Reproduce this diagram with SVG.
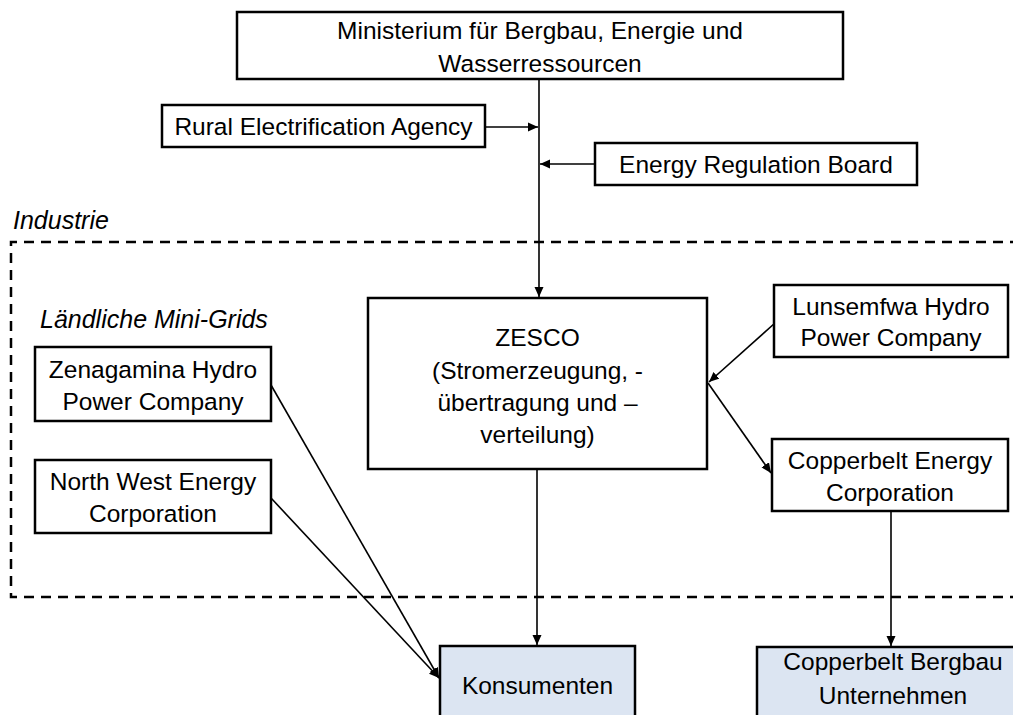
<svg xmlns="http://www.w3.org/2000/svg" width="1013" height="715" viewBox="0 0 1013 715">
<style>
.box{fill:#fff;stroke:#000;stroke-width:2.5}
.blue{fill:#dce5f2;stroke:#000;stroke-width:2.5}
.t{font-family:"Liberation Sans",Arial,sans-serif;font-size:24.5px;fill:#000;text-anchor:middle}
.it{font-family:"Liberation Sans",Arial,sans-serif;font-size:25px;font-style:italic;fill:#000}
.c{stroke:#000;stroke-width:1.6;fill:none}
.dash{stroke:#000;stroke-width:2.5;fill:none;stroke-dasharray:10 7}
</style>
<defs>
<marker id="ah" markerUnits="userSpaceOnUse" markerWidth="10" markerHeight="10" refX="10" refY="5" orient="auto">
<path d="M0,0.5 L10,5 L0,9.5 z" fill="#000"/>
</marker>
</defs>
<g id="industrie">
<path class="dash" d="M1020,242 H11 V597 H1020"/>
<text class="it" x="13" y="229">Industrie</text>
<text class="it" x="40" y="328">Ländliche Mini-Grids</text>
</g>
<g id="connectors">
<line class="c" x1="539" y1="79" x2="539" y2="297" marker-end="url(#ah)"/>
<line class="c" x1="485" y1="127" x2="538" y2="127" marker-end="url(#ah)"/>
<line class="c" x1="595" y1="164" x2="540" y2="164" marker-end="url(#ah)"/>
<line class="c" x1="775" y1="323" x2="709" y2="382" marker-end="url(#ah)"/>
<line class="c" x1="708" y1="383" x2="771" y2="473" marker-end="url(#ah)"/>
<line class="c" x1="537" y1="469" x2="537" y2="645" marker-end="url(#ah)"/>
<line class="c" x1="271" y1="385" x2="439" y2="678" marker-end="url(#ah)"/>
<line class="c" x1="271" y1="498" x2="439" y2="678" marker-end="url(#ah)"/>
<line class="c" x1="891" y1="511" x2="891" y2="646" marker-end="url(#ah)"/>
</g>
<g id="ministerium">
<rect class="box" x="237" y="12" width="606" height="67"/>
<text class="t" x="540" y="39">Ministerium für Bergbau, Energie und</text>
<text class="t" x="540" y="72">Wasserressourcen</text>
</g>
<g id="rea">
<rect class="box" x="162" y="105" width="323" height="42"/>
<text class="t" x="323.5" y="135">Rural Electrification Agency</text>
</g>
<g id="erb">
<rect class="box" x="595" y="143" width="322" height="42"/>
<text class="t" x="756" y="173">Energy Regulation Board</text>
</g>
<g id="zesco">
<rect class="box" x="368" y="298" width="339" height="171"/>
<text class="t" x="537.5" y="346">ZESCO</text>
<text class="t" x="537.5" y="379">(Stromerzeugung, -</text>
<text class="t" x="537.5" y="411">übertragung und –</text>
<text class="t" x="537.5" y="443">verteilung)</text>
</g>
<g id="lunsemfwa">
<rect class="box" x="774" y="285" width="234" height="72"/>
<text class="t" x="891" y="315">Lunsemfwa Hydro</text>
<text class="t" x="891" y="346">Power Company</text>
</g>
<g id="cec">
<rect class="box" x="772" y="439" width="236" height="72"/>
<text class="t" x="890" y="469">Copperbelt Energy</text>
<text class="t" x="890" y="501">Corporation</text>
</g>
<g id="zenagamina">
<rect class="box" x="35" y="347" width="236" height="74"/>
<text class="t" x="153" y="378">Zenagamina Hydro</text>
<text class="t" x="153" y="410">Power Company</text>
</g>
<g id="northwest">
<rect class="box" x="35" y="460" width="236" height="73"/>
<text class="t" x="153" y="490">North West Energy</text>
<text class="t" x="153" y="522">Corporation</text>
</g>
<g id="konsumenten">
<rect class="blue" x="440" y="646" width="195" height="80"/>
<text class="t" x="537.5" y="694">Konsumenten</text>
</g>
<g id="bergbau">
<rect class="blue" x="757" y="647" width="272" height="80"/>
<text class="t" x="893" y="670">Copperbelt Bergbau</text>
<text class="t" x="893" y="704">Unternehmen</text>
</g>
</svg>
